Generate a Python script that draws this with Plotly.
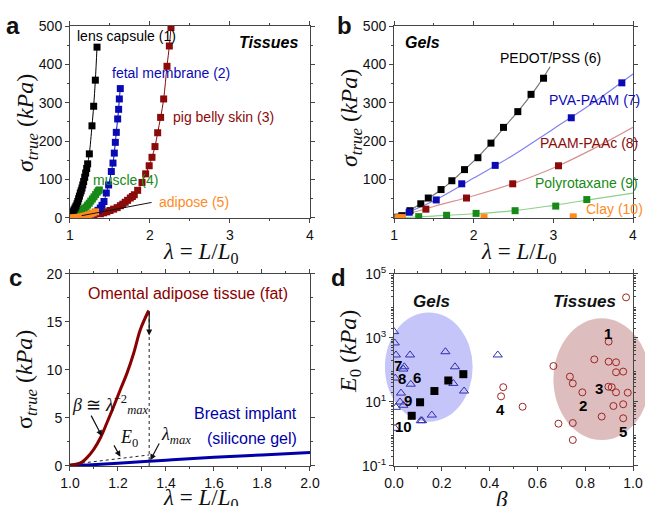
import plotly.graph_objects as go

# ---------------- Panel a: tissues ----------------
lens_x = [1.005, 1.013, 1.025, 1.038, 1.05, 1.063, 1.075, 1.088, 1.098, 1.108, 1.118, 1.129, 1.14, 1.15,
          1.16, 1.171, 1.184, 1.196, 1.209, 1.221, 1.242, 1.275, 1.296, 1.317, 1.338]
lens_y = [2, 7, 12, 16, 21, 26, 31, 37, 43, 50, 57, 65, 71, 78, 86, 95, 106, 117, 129, 141, 167, 240, 291, 359, 445]

fetal_x = [1.09, 1.21, 1.25, 1.28, 1.317, 1.35, 1.379, 1.40, 1.425, 1.454, 1.483, 1.517, 1.5375, 1.554,
           1.567, 1.579, 1.596, 1.608, 1.617, 1.629]
fetal_y = [2, 6, 9, 11, 15, 20, 26, 33, 43, 65, 86, 121, 143, 169, 197, 223, 258, 283, 310, 337]

pig_x = [1.13, 1.2, 1.254, 1.3, 1.38, 1.42, 1.46, 1.5, 1.546, 1.59, 1.63, 1.66, 1.69, 1.72, 1.754, 1.78,
         1.804, 1.846, 1.9, 1.946, 1.99, 2.025, 2.0625, 2.096, 2.133, 2.171, 2.2125, 2.242, 2.2625]
pig_y = [2.6, 4.5, 6, 8, 11, 13.5, 16, 19.5, 23, 27, 32, 36, 41, 46, 52, 56, 60.5, 72, 92.5, 115, 136, 158,
         186, 222, 262, 310, 395, 448, 496]

muscle_x = [1.02, 1.04, 1.06, 1.08, 1.10, 1.12, 1.14, 1.16, 1.18, 1.20, 1.22, 1.24, 1.26, 1.28, 1.30,
            1.32, 1.34, 1.355, 1.367]
muscle_y = [2, 4, 6, 8.5, 11, 14, 17, 20.5, 24.5, 28.5, 33.5, 38.5, 44, 49.5, 55, 61, 67, 71, 73]

adipose_x = [1.02, 1.05, 1.08, 1.11, 1.14, 1.17, 1.20, 1.23, 1.26, 1.29, 1.32]
adipose_y = [0.2, 0.5, 1, 1.8, 2.9, 4.3, 6, 8, 10.3, 13, 16]

# ---------------- Panel b: gels ----------------
pedot_x = [1.0, 1.097, 1.2, 1.336, 1.43, 1.59, 1.726, 1.885, 2.053, 2.217, 2.374, 2.554, 2.72, 2.877]
pedot_y = [1, 6, 19, 37, 52, 74, 97, 126, 157, 195, 236, 277, 322, 364]
pedot_fit_x = [1.0, 1.2, 1.4, 1.6, 1.8, 2.0, 2.2, 2.4, 2.6, 2.8, 2.96]
pedot_fit_y = [0, 20, 47, 75, 110, 148, 191, 240, 289, 343, 394]

pva_x = [1.0, 1.19, 1.53, 1.85, 2.27, 3.225, 3.86]
pva_y = [2, 15, 47, 89, 137, 261, 352]
pva_fit_x = [1.0, 1.5, 2.0, 2.5, 3.0, 3.5, 4.0]
pva_fit_y = [0, 45, 104, 164, 232, 300, 375]

paam_x = [1.075, 1.4, 1.91, 2.49, 3.065]
paam_y = [2, 23, 52, 89, 136]
paam_fit_x = [1.0, 1.5, 2.0, 2.5, 3.0, 3.5, 4.0]
paam_fit_y = [0, 30, 58, 90, 130, 180, 236]

poly_x = [1.05, 1.31, 1.66, 2.03, 2.52, 3.03, 3.42]
poly_y = [1, 3.5, 7, 12, 19, 31, 48]
poly_fit_x = [1.0, 1.5, 2.0, 2.5, 3.0, 3.5, 4.0]
poly_fit_y = [0, 5, 11, 19, 33, 49, 65]

clay_x = [1.05, 1.1, 2.13, 3.25]
clay_y = [0.5, 1, 2, 3]

# ---------------- Panel c ----------------
fat_x = [1.0, 1.03, 1.05, 1.071, 1.099, 1.127, 1.154, 1.182, 1.21, 1.238, 1.266, 1.293, 1.328]
fat_y = [0.1, 0.2, 0.4, 0.87, 1.73, 2.94, 4.5, 6.2, 7.96, 9.7, 11.8, 14.2, 16.2]
implant_x = [1.0, 1.2, 1.4, 1.6, 1.8, 2.0]
implant_y = [0.0, 0.28, 0.6, 0.9, 1.15, 1.4]

# ---------------- Panel d ----------------
gel_tri_beta = [0.0, 0.003, 0.008, 0.067, 0.215, 0.434, 0.043, 0.039, 0.255, 0.005, 0.07, 0.248, 0.293,
                0.029, 0.025, 0.039, 0.008, 0.158, 0.112, 0.117, 0.004]
gel_tri_E = [1585, 700, 295, 295, 372, 295, 126, 107, 126, 56, 36, 38, 22, 19, 10, 7.9, 6.8, 3.9, 2.6, 2.6, 1.5]
gel_sq_beta = [0.074, 0.109, 0.169, 0.227, 0.29]
gel_sq_E = [3.7, 9.8, 22, 47, 74]
tis_beta = [0.971, 0.898, 0.838, 0.898, 0.929, 0.667, 0.929, 0.959, 0.736, 0.748, 0.788, 0.897, 0.911,
            0.929, 0.978, 0.918, 0.959, 0.869, 0.959, 0.688, 0.748, 0.748, 0.538, 0.457, 0.448]
tis_E = [18600, 770, 214, 182, 174, 133, 85, 89, 62, 38, 20, 30, 29, 20, 19.5, 7.5, 8.5, 3.5, 3.1, 2.1,
         2.2, 0.65, 7.1, 29, 15]
d_labels = ["1", "2", "3", "4", "5", "6", "7", "8", "9", "10"]
d_label_beta = [0.897, 0.79, 0.858, 0.444, 0.959, 0.097, 0.017, 0.032, 0.06, 0.039]
d_label_logE = [3.15, 0.875, 1.43, 0.78, 0.07, 1.76, 2.125, 1.74, 1.06, 0.23]

BLACK = "#000000"
BLUE = "#0A0AB4"
RED = "#8B0A0A"
GREEN = "#168A16"
ORANGE = "#FF8A1E"

fig = go.Figure()


def sq(x, y, color, xa, ya, size=7, line=True, lcolor=None):
    fig.add_trace(go.Scatter(
        x=x, y=y, xaxis=xa, yaxis=ya,
        mode="lines+markers" if line else "markers",
        line=dict(color=lcolor or color, width=1, shape="spline"),
        marker=dict(symbol="square", size=size, color=color),
        showlegend=False, hoverinfo="skip"))


def ln(x, y, color, xa, ya, width=1.2):
    fig.add_trace(go.Scatter(x=x, y=y, xaxis=xa, yaxis=ya, mode="lines",
                             line=dict(color=color, width=width, shape="spline"),
                             showlegend=False, hoverinfo="skip"))


# panel a
sq(pig_x, pig_y, RED, "x", "y")
sq(fetal_x, fetal_y, BLUE, "x", "y")
sq(muscle_x, muscle_y, GREEN, "x", "y")
sq(lens_x, lens_y, BLACK, "x", "y")
sq(adipose_x, adipose_y, ORANGE, "x", "y")

# panel b
ln(pedot_fit_x, pedot_fit_y, "#777777", "x2", "y2")
ln(pva_fit_x, pva_fit_y, "#8080F0", "x2", "y2")
ln(paam_fit_x, paam_fit_y, "#D89090", "x2", "y2")
ln(poly_fit_x, poly_fit_y, "#8CD08C", "x2", "y2")
sq(pedot_x, pedot_y, BLACK, "x2", "y2", size=7, line=False)
sq(pva_x, pva_y, BLUE, "x2", "y2", size=7, line=False)
sq(paam_x, paam_y, RED, "x2", "y2", size=7, line=False)
sq(poly_x, poly_y, GREEN, "x2", "y2", size=7, line=False)
sq(clay_x, clay_y, ORANGE, "x2", "y2", size=7, line=False)

# panel c
ln(implant_x, implant_y, "#0000A8", "x3", "y3", width=3)
ln(fat_x, fat_y, "#8B0000", "x3", "y3", width=3)

# panel d
fig.add_trace(go.Scatter(x=gel_tri_beta, y=gel_tri_E, xaxis="x4", yaxis="y4", mode="markers",
                         marker=dict(symbol="triangle-up-open", size=8, color="#3030B0",
                                     line=dict(width=1)),
                         showlegend=False, hoverinfo="skip"))
fig.add_trace(go.Scatter(x=tis_beta, y=tis_E, xaxis="x4", yaxis="y4", mode="markers",
                         marker=dict(symbol="circle-open", size=7, color="#A02424", line=dict(width=1)),
                         showlegend=False, hoverinfo="skip"))
fig.add_trace(go.Scatter(x=gel_sq_beta, y=gel_sq_E, xaxis="x4", yaxis="y4", mode="markers",
                         marker=dict(symbol="square", size=8, color="#000000"),
                         showlegend=False, hoverinfo="skip"))

AX = "#444444"
TICKFONT = dict(family="Liberation Sans, Arial", size=14, color="#111111")
SERIF = "Liberation Serif, DejaVu Serif"


def axstyle(**kw):
    d = dict(showline=True, linecolor=AX, linewidth=1, mirror="allticks", ticks="outside",
             ticklen=4, tickcolor=AX, showgrid=False, zeroline=False, tickfont=TICKFONT,
             automargin=False)
    d.update(kw)
    return d


xl = [0.1085, 0.4806]
xr = [0.6109, 0.9814]
yt = [0.5692, 0.9486]
yb = [0.0791, 0.4585]

minor_log = []
for dec in range(-1, 5):
    for m in range(2, 10):
        minor_log.append(m * 10 ** dec)

fig.update_layout(
    width=645, height=506, autosize=False,
    margin=dict(l=0, r=0, t=0, b=0),
    paper_bgcolor="white", plot_bgcolor="white",
    xaxis=axstyle(domain=xl, anchor="y", range=[1, 4], dtick=1,
                  minor=dict(ticks="outside", ticklen=2, dtick=0.5, tickcolor=AX)),
    yaxis=axstyle(domain=yt, anchor="x", range=[0, 500], dtick=100,
                  minor=dict(ticks="outside", ticklen=2, dtick=50, tickcolor=AX)),
    xaxis2=axstyle(domain=xr, anchor="y2", range=[1, 4], dtick=1,
                   minor=dict(ticks="outside", ticklen=2, dtick=0.5, tickcolor=AX)),
    yaxis2=axstyle(domain=yt, anchor="x2", range=[0, 500], tickvals=[100, 200, 300, 400, 500],
                   minor=dict(ticks="outside", ticklen=2, dtick=50, tickcolor=AX)),
    xaxis3=axstyle(domain=xl, anchor="y3", range=[1, 2], dtick=0.2, tickformat=".1f",
                   minor=dict(ticks="outside", ticklen=2, dtick=0.1, tickcolor=AX)),
    yaxis3=axstyle(domain=yb, anchor="x3", range=[0, 20], dtick=5,
                   minor=dict(ticks="outside", ticklen=2, dtick=2.5, tickcolor=AX)),
    xaxis4=axstyle(domain=xr, anchor="y4", range=[0, 1], dtick=0.2, tickformat=".1f",
                   minor=dict(ticks="outside", ticklen=2, dtick=0.1, tickcolor=AX)),
    yaxis4=axstyle(domain=yb, anchor="x4", type="log", range=[-1, 5],
                   tickvals=[0.1, 10, 1000, 100000],
                   ticktext=["10<sup>-1</sup>", "10<sup>1</sup>", "10<sup>3</sup>", "10<sup>5</sup>"],
                   minor=dict(ticks="outside", ticklen=2, tickvals=minor_log, tickcolor=AX)),
)

# ellipses in panel d (domain-referenced so they may extend past the axes)
fig.add_shape(type="circle", xref="x4 domain", yref="y4 domain", x0=-0.038, x1=0.329, y0=0.231, y1=0.80,
              fillcolor="rgba(110,110,240,0.40)", line=dict(width=0), layer="below")
fig.add_shape(type="circle", xref="x4 domain", yref="y4 domain", x0=0.667, x1=1.071, y0=0.135, y1=0.769,
              fillcolor="rgba(170,90,90,0.40)", line=dict(width=0), layer="below")

# panel a pointer to adipose
fig.add_shape(type="line", xref="x", yref="y", x0=1.146, y0=6, x1=2.02, y1=40.5,
              line=dict(color="#111111", width=1))

# panel c dashed guides
fig.add_shape(type="line", xref="x3", yref="y3", x0=1.33, y0=0, x1=1.33, y1=16.2,
              line=dict(color="#222222", width=1, dash="dot"))
fig.add_shape(type="line", xref="x3", yref="y3", x0=1.0, y0=0.15, x1=1.33, y1=1.15,
              line=dict(color="#222222", width=1, dash="dot"))

ann = []


def txt(x, y, s, xref, yref, color="#111111", size=14, xanchor="left", family="Liberation Sans, Arial",
        xshift=0, angle=0):
    ann.append(dict(x=x, y=y, xref=xref, yref=yref, text=s, showarrow=False, xanchor=xanchor,
                    yanchor="middle", xshift=xshift, textangle=angle,
                    font=dict(family=family, size=size, color=color)))


W, H = 645.0, 506.0


def ptxt(px, py, s, size=24, family=SERIF, angle=0, color="#111111"):
    txt(px / W, 1 - py / H, s, "paper", "paper", color, size=size, xanchor="center", family=family,
        angle=angle)


# axis titles (as annotations for precise placement)
lam_title = "<i>λ</i> = <i>L</i>/<i>L</i><sub>0</sub>"
sig_title = "<i>σ</i><sub><i>true</i></sub> (<i>kPa</i>)"
ptxt(200, 253, lam_title, size=23)
ptxt(518, 253, lam_title, size=23)
ptxt(200, 499, lam_title, size=23)
ptxt(501, 499, "<i>β</i>", size=23)
ptxt(27, 123, sig_title, angle=-90)
ptxt(351, 118, sig_title, angle=-90)
ptxt(26, 380, "σ<sub><i>true</i></sub> (<i>kPa</i>)", angle=-90)
ptxt(350, 352, "<i>E</i><sub>0</sub> (<i>kPa</i>)", angle=-90)

# panel letters
for letter, px, py in [("a", 13, 25), ("b", 345, 25), ("c", 15, 277), ("d", 338, 277)]:
    ptxt(px, py, "<b>%s</b>" % letter, size=24, family="Liberation Sans, Arial")

# panel a labels
txt(1.0625, 474, "lens capsule (1)", "x", "y", BLACK)
txt(1.5, 378, "fetal membrane (2)", "x", "y", BLUE)
txt(2.26, 263, "pig belly skin (3)", "x", "y", RED)
txt(1.26, 99, "muscle (4)", "x", "y", GREEN)
txt(2.09, 42, "adipose (5)", "x", "y", ORANGE)
txt(3.875, 458, "<b><i>Tissues</i></b>", "x", "y", BLACK, size=16, xanchor="right")

# panel b labels
txt(1.11, 456, "<b><i>Gels</i></b>", "x2", "y2", BLACK, size=16)
txt(3.62, 417, "PEDOT/PSS (6)", "x2", "y2", BLACK, xanchor="right")
txt(4.0, 307, "PVA-PAAM (7)", "x2", "y2", BLUE, xanchor="right", xshift=9)
txt(4.0, 195, "PAAM-PAAc (8)", "x2", "y2", RED, xanchor="right", xshift=7)
txt(4.0, 91, "Polyrotaxane (9)", "x2", "y2", GREEN, xanchor="right", xshift=7)
txt(4.0, 23, "Clay (10)", "x2", "y2", ORANGE, xanchor="right", xshift=12)

# panel c labels
txt(1.49, 18.0, "Omental adipose tissue (fat)", "x3", "y3", "#8B0000", size=16, xanchor="center")
txt(1.73, 5.5, "Breast implant", "x3", "y3", "#0000A8", size=16, xanchor="center")
txt(1.76, 2.9, "(silicone gel)", "x3", "y3", "#0000A8", size=16, xanchor="center")
txt(1.17, 6.4, "<i>β</i> ≅ <i>λ</i><sup>−2</sup><sub><i>max</i></sub>", "x3", "y3", "#111111", size=18,
    xanchor="center", family=SERIF)
txt(1.245, 2.9, "<i>E</i><sub>0</sub>", "x3", "y3", "#111111", size=18, xanchor="center", family=SERIF)
txt(1.44, 3.2, "<i>λ</i><sub><i>max</i></sub>", "x3", "y3", "#111111", size=18, xanchor="center",
    family=SERIF)

# panel c arrows
for (xt, yt_, xa, ya) in [(1.33, 13.6, 1.33, 16.2), (1.133, 3.1, 1.085, 5.4), (1.21, 0.95, 1.18, 2.3),
                          (1.335, 0.6, 1.375, 2.5)]:
    ann.append(dict(x=xt, y=yt_, ax=xa, ay=ya, xref="x3", yref="y3", axref="x3", ayref="y3",
                    showarrow=True, arrowhead=2, arrowsize=1, arrowwidth=1.2, arrowcolor="#111111",
                    text=""))

# panel d labels
ptxt(431.7, 301.7, "<b><i>Gels</i></b>", size=17, family="Liberation Sans, Arial")
ptxt(584, 301.7, "<b><i>Tissues</i></b>", size=17, family="Liberation Sans, Arial")
for lab, bx, by in zip(d_labels, d_label_beta, d_label_logE):
    txt(bx, by, "<b>%s</b>" % lab, "x4", "y4", BLACK, size=15, xanchor="center")

fig.update_layout(annotations=ann)
fig.write_html("out.html", config={"displayModeBar": False},
               post_script="document.body.style.margin='0px';")
